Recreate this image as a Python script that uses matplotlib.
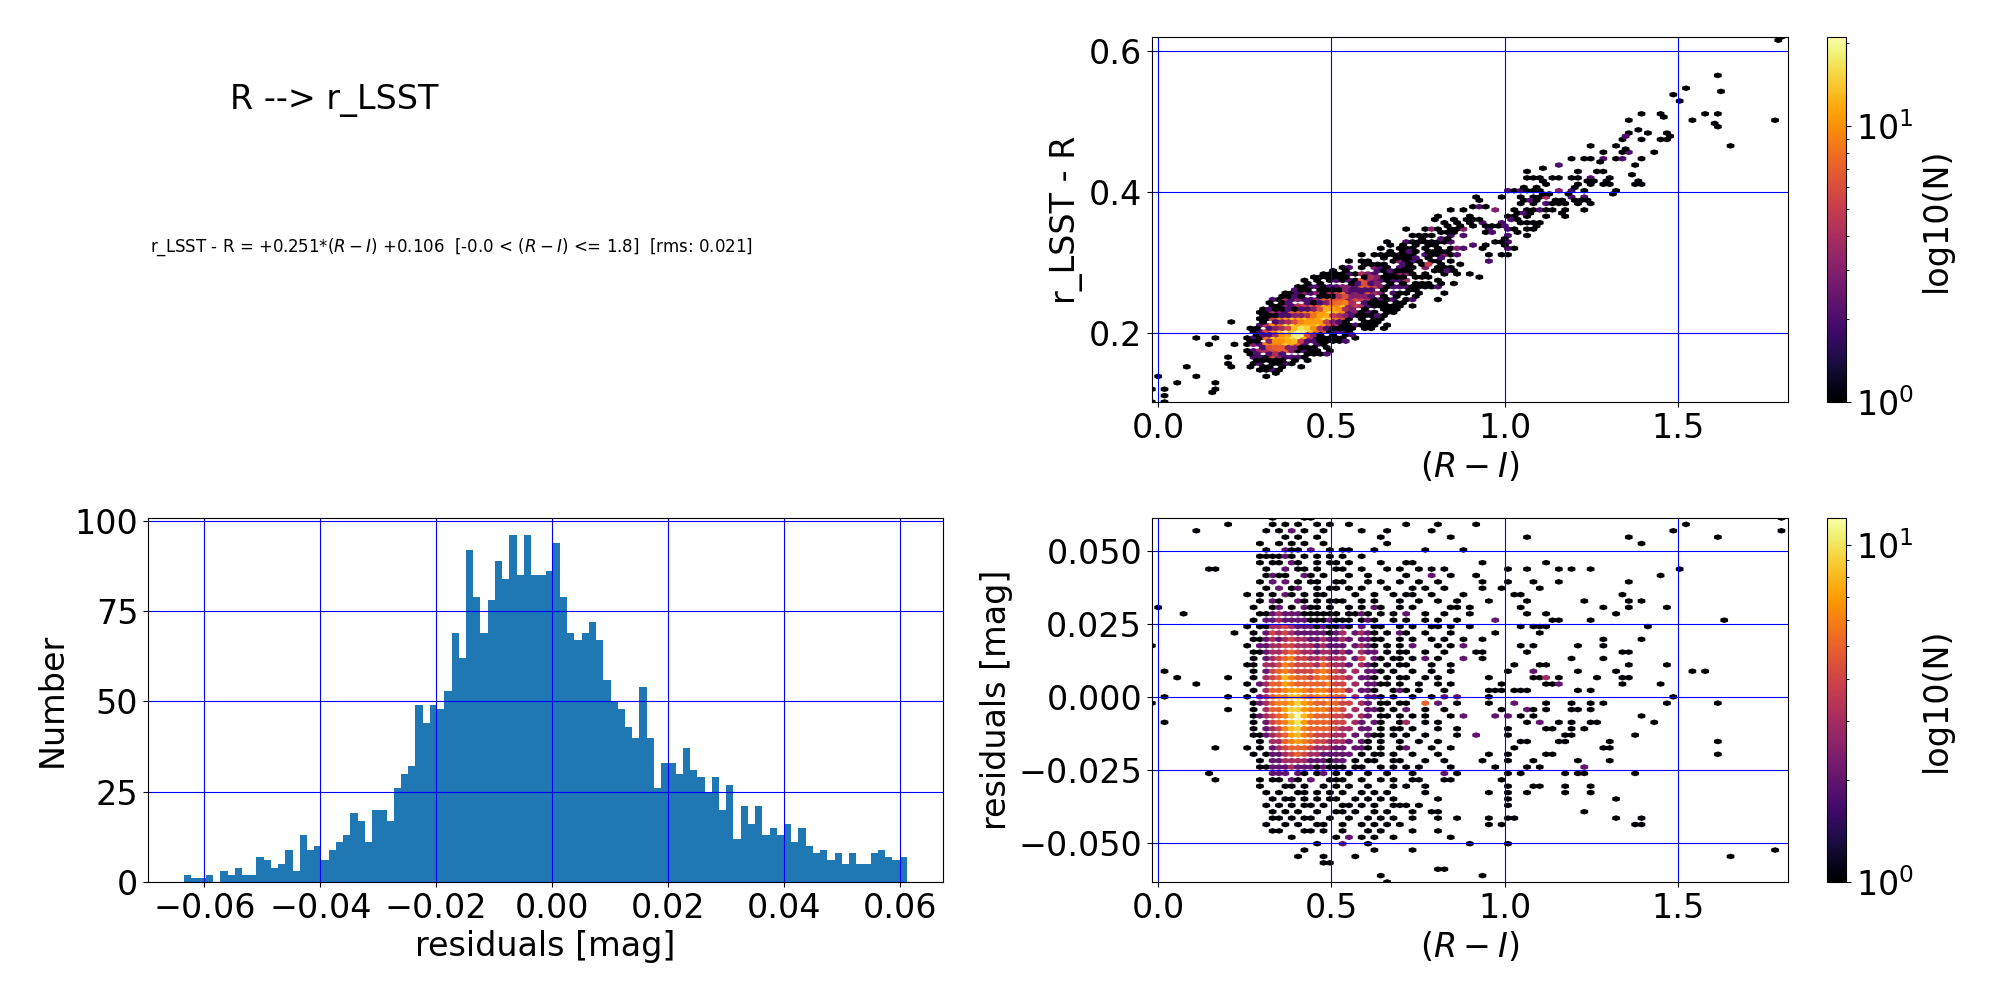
import numpy as np
import matplotlib
matplotlib.use("Agg")
import matplotlib.pyplot as plt

plt.rcParams["font.size"] = 24

# =============================
# Data
# =============================

# residual histogram, 100 bins between the extreme residuals
hist_lo, hist_hi = -0.0635, 0.0612
hist_counts = [2, 1, 1, 2, 0, 3, 2, 4, 2, 2,
               7, 6, 4, 5, 9, 3, 13, 9, 10, 6,
               9, 11, 13, 19, 17, 11, 20, 20, 17, 26,
               30, 32, 49, 44, 49, 48, 53, 69, 62, 92,
               79, 69, 78, 89, 84, 96, 85, 96, 85, 85,
               86, 94, 79, 69, 67, 69, 72, 67, 56, 50,
               48, 43, 40, 54, 40, 26, 33, 33, 30, 37,
               31, 29, 25, 29, 20, 27, 12, 21, 16, 21,
               13, 15, 13, 16, 11, 15, 10, 8, 9, 6,
               8, 5, 8, 5, 5, 8, 9, 7, 6, 7]

# star counts on a (R-I) x residual grid
# columns: (R-I) = ri_start + c*ri_step, rows (top first): res = res_start + j*res_step
# '.' = empty, hex digit = number of stars
ri_start, ri_step = -0.019, 0.01837
res_start, res_step = -0.0635, 0.002188
res_map = [
    ".......... .........1 ....11.... .......... .......... .......... .......... .......... .......... .........1",
    ".......... ..1......1 .1.1..1.1. .1........ 1....1.... .1........ .......... .......... ....1..... ..........",
    ".......1.. ........1. 1.2.1..1.. ...1...1.. ....1..... .......... .......... .......... ..1....... .........1",
    ".......... .......... .1.1..1... ......1... .......1.. .........1 .......... .....1.... .........1 ..........",
    ".......... .......1.. 1.1.1..1.. .......1.. .......... .......... .......... .......1.. .......... ..........",
    ".......... ........1. .211.2..1. 11...1.... ...1.....1 .......... .......... .......... .......... ..........",
    ".......... .......111 121.1.1.1. 1..1...... .......... .......... .......... .......... .......... ..........",
    ".......... .......1.1 1.21..1.11 .1....1... 11........ ..1....... ..1....... .......... .......... ..........",
    ".........1 1.......1. .2.11.1..1 1..1...1.1 ..1.1.1... ......1..1 ....1.1..1 .......... ...1...... ..........",
    ".......... ........12 11..21.1.. .1..1..... 1...2..1.. .1........ .......... .......... 1......... ..........",
    ".......... .......1.2 .2.1.11..1 1...1.1..1 ..1..1.... ..1...1... 1...1..... .....1.... .......... ..........",
    ".......... ........1. 2.12..1.11 .1.1...1.. .1.1..1... ..1..1.... .1........ .......... .......... ..........",
    ".......... .....1.1.1 .21.1.11.. ..1..1..1. 11..1....1 .......11. .......... ....1..... .......... ..........",
    ".......... .......1.2 1..21.1.11 1..1.1...1 ..1..1..1. ...1.....1 ........1. .....1.1.. .......... ..........",
    ".1........ ......1..1 2.1.211.1. .1.1.21..1 .1.....11. 1.......1. .......... .1...1.... .1........ ..........",
    ".....1.... .......112 3222111111 .1121.1.1. 2..1..1... 1........1 ..1....... ...1...... .......... ..........",
    ".......... ......1.22 3222211121 11.121..1. 1..1.1..1. ....2..... ...11....1 .......... .......... 1.........",
    ".......... .....1.113 3432221211 21.2.11..1 .1..11.1.. 1.......1. 111....... ........1. .......... ..........",
    ".......... ...1..1.24 3432222212 3.2321.1.2 1..1...1.. ....1..... .1........ .......... .......... ..........",
    ".......... ......1123 2343322322 32.2211..1 .1..1.1..1 ..1....... .......... .1.....1.. .......... ..........",
    "1......... .....1.223 3443332322 2.2321.1.1 .2...1.1.2 ........1. 1......1.. .1........ .......... ..........",
    ".......... ......1123 3454332332 32.322.1.1 1..1..1... .11......1 .......... ....11.... .......... ..........",
    ".......... ......1.23 4564433433 3.24.21.11 .1.2.1...2 ..1....... ......1... .1........ .......... ..........",
    ".......... .....11.33 4654443543 32.321.1.1 1...1..1.. .......1.. .11....... .....1.... .1........ ..........",
    "..1....... ......1.24 5654445654 3.3.221.1. .1..1..1.. ......1... 2......1.. ...1...... .....1.1.. ..........",
    "....1..... ..1...1.34 5865545654 43.221.1.1 1..1.1.... ...1...... 113.1..... 1...11.... .......... ..........",
    ".......1.. .....1.235 5765555564 4.3.2211.1 ..1..1.1.. .....1.... ..112..... ....1..... 1......... ..........",
    ".......... ......1.35 5677656655 53.221..12 1.1...1... ...111.111 .......1.1 .......... .......... ..........",
    "..1....... ..1..1.235 6688656765 5.3.221.1. .1..1.2.2. ...1...... .......... .......... ..1....... ..........",
    "1......... ......1235 6679765565 44.32.11.1 1..5.2..1. ...1...2.. ..1...1..1 .1........ .1.......1 ..........",
    ".......... ..1...1.35 5799766655 4.3.221.1. 2..1..1... .....1...2 1.1...11.1 .......... .......... ..........",
    ".......... ......1234 569c865554 43.32.11.1 .1.1...1.2 ....2.2.1. 1......... .......1.. .......... ..........",
    "..1....... ......1.24 568a755554 4.32.21..1 3..1.1.... .........1 .2..1.1..1 1........1 .......... ..........",
    ".......... ......1.23 4689655554 33.22.1.11 .1...1..1. ......1... ..11..1.1. .......... .......... ..........",
    ".......... ......1123 4578654443 3.2.211.1. 1..1....1. .2....1... .....11... ......1... .......... ..........",
    ".......... .......1.3 3567654433 32.21.1..1 ..1..1.... ........11 ....11.... ..1....... .........1 ..........",
    ".......... 1....1.1.2 3455543332 2.221.1..1 2...1..1.. .......1.. .......... .11....... .......... ..........",
    ".......... ......1.12 2345433222 22.1.11.1. .1...1.... ...1..1... ..11...... .......... .........1 ..........",
    ".......... .......1.2 2333322212 2.1.11..11 ...1..1... ..1...1... 1......1.. ..1....... .......... ..........",
    ".......... .......112 2232221211 1.11..1.1. 1.1....1.. ....1....1 .1......2. .......... .......... ..........",
    ".........1 .........2 22.21.12.1 .1..1..1.. .1....2.1. ......1.1. .....1.11. ......1... .......... ..........",
    ".......... 1......1.1 1.21.2..11 1..1..1.1. .11...11.. .....1.... .......... .......... .......... ..........",
    ".......... .......1.. .11.1..1.1 .1..1...1. 1..1...... ......1... 11...1...1 .......... .......... ..........",
    ".......... ........1. 1..11.1.1. 1..1.1.1.. ...1...... ...1..1..1 .....1...1 .......... .......... ..........",
    ".......... .........1 .11.1.1.11 ..1.1.1.1. .....1.... ......1... .......... ...1...... .......... ..........",
    ".......... ........1. 1.1.11.1.. 11.1.1..11 1.1....... ......1... .......... .......... .......... ..........",
    ".......... .........1 .1.1..1..1 1.1..1.1.. .1..11.... .......... ........1. .......... .......... ..........",
    ".......... .........1 1.1.11..1. .1..1.1.1. .1...1..1. ...1..11.. .......... ...1...1.. .......... ..........",
    ".......... ........1. .1.1..11.. 1..1.1.1.1 .......... ...1.1.... .......... ......11.. .......... ..........",
    ".......... .........1 1...11.1.. 1...1.1... .1...1.... .......... .......... .......... .......... ..........",
    ".......... .......... ..1......1 .2.1.1..1. .......1.. .......... .......... .......... .......... ..........",
    ".......... .......... ......1... 2...1..... .......... 1.....1... .......... .......... .......... ..........",
    ".......... .......... ....1..... .....1.... .1........ .......... .......... .......... .......... ........1.",
    ".......... .......... ...1...1.. ..1....... .......... .......... .......... .......... .......... .1........",
    ".......... .......... .......11. .......... .......... .......... .......... .......... .......... ..........",
    ".......... .......... .......... .......... .....11... .......... .......... .......... .......... ..........",
    ".......... .......... .......... ......1... .......... ..1....... .......... .......... .......... ..........",
    ".......... .......... .......... .......1.. .......... .......... .......... .......... .......... ..........",
]

# fit shown in the figure
slope, intercept, rms = 0.251, 0.106, 0.021

ri_lim = (-0.019, 1.818)
res_lim = (-0.0635, 0.0612)
top_lim = (0.1016, 0.620)

# =============================
# Unpack the cell map
# =============================

ri, res, nstar = [], [], []
nrows = len(res_map)
for k, row in enumerate(res_map):
    row = row.replace(" ", "")
    j = nrows - 1 - k
    for c, ch in enumerate(row):
        if ch != ".":
            ri.append(ri_start + c * ri_step)
            res.append(res_start + j * res_step)
            nstar.append(int(ch, 16))

ri = np.array(ri)
res = np.array(res)
nstar = np.array(nstar)
dmag = slope * ri + intercept + res

# =============================
# Figure
# =============================

fig = plt.figure(figsize=(20, 10), dpi=100)

ax_top = fig.add_axes([0.5759, 0.598, 0.318, 0.365])
cax_top = fig.add_axes([0.9135, 0.598, 0.0097, 0.365])
ax_res = fig.add_axes([0.5759, 0.118, 0.318, 0.364])
cax_res = fig.add_axes([0.9135, 0.118, 0.0097, 0.364])
ax_hist = fig.add_axes([0.074, 0.118, 0.3975, 0.364])

# top right: colour term vs (R-I)
hb = ax_top.hexbin(ri, dmag, C=nstar, reduce_C_function=np.sum, gridsize=100,
                   bins="log", cmap="inferno",
                   extent=(ri_lim[0], ri_lim[1], top_lim[0], top_lim[1]))
ax_top.set_xlim(ri_lim)
ax_top.set_ylim(top_lim)
ax_top.set_yticks([0.2, 0.4, 0.6])
ax_top.set_xticks([0.0, 0.5, 1.0, 1.5])
ax_top.set_xlabel("$(R-I)$")
ax_top.set_ylabel("r_LSST - R")
ax_top.grid(color="b")
cb = fig.colorbar(hb, cax=cax_top)
cb.set_label("log10(N)")

# bottom right: residuals vs (R-I)
hb2 = ax_res.hexbin(ri, res, C=nstar, reduce_C_function=np.sum, gridsize=100,
                    bins="log", cmap="inferno",
                    extent=(ri_lim[0], ri_lim[1], res_lim[0], res_lim[1]))
ax_res.set_xlim(ri_lim)
ax_res.set_ylim(res_lim)
ax_res.set_yticks([-0.05, -0.025, 0.0, 0.025, 0.05])
ax_res.set_xticks([0.0, 0.5, 1.0, 1.5])
ax_res.set_xlabel("$(R-I)$")
ax_res.set_ylabel("residuals [mag]")
ax_res.grid(color="b")
cb2 = fig.colorbar(hb2, cax=cax_res)
cb2.set_label("log10(N)")

# bottom left: histogram of residuals
edges = np.linspace(hist_lo, hist_hi, len(hist_counts) + 1)
ax_hist.hist(edges[:-1], bins=edges, weights=hist_counts)
ax_hist.set_xticks([-0.06, -0.04, -0.02, 0.0, 0.02, 0.04, 0.06])
ax_hist.set_yticks([0, 25, 50, 75, 100])
ax_hist.set_xlabel("residuals [mag]")
ax_hist.set_ylabel("Number")
ax_hist.grid(color="b")

# top left: title and fit
fig.text(0.115, 0.891, "R --> r_LSST", fontsize=24, va="baseline")
fig.text(0.075, 0.748,
         "r_LSST - R = +%.3f*$(R-I)$ +%.3f  [-0.0 < $(R-I)$ <= 1.8]  [rms: %.3f]"
         % (slope, intercept, rms),
         fontsize=12, va="baseline")

fig.savefig("out.png", dpi=100)
